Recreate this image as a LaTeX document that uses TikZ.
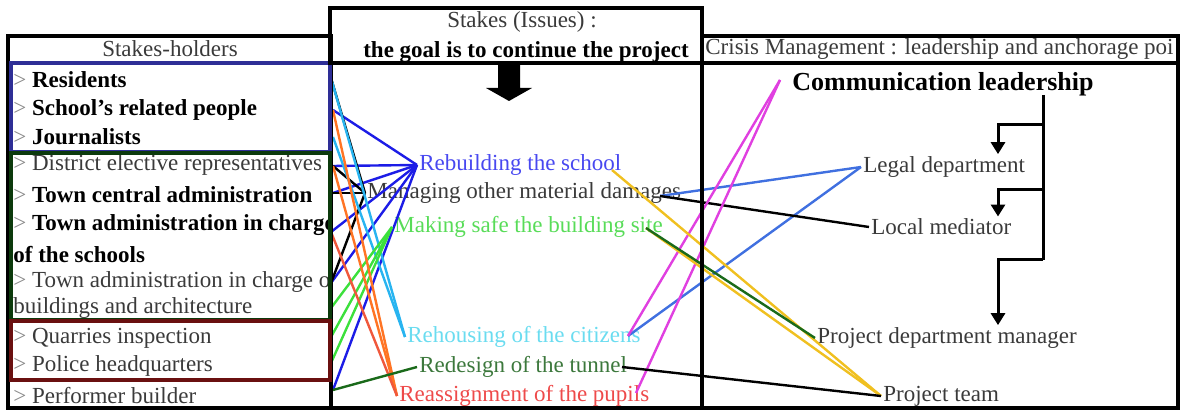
\documentclass[tikz,border=0pt]{standalone}
\usepackage{fontspec}
\setmainfont{Liberation Serif}
\usepackage{xcolor}
\usetikzlibrary{arrows.meta,positioning}

\definecolor{txtgray}{HTML}{3A3A3A}
\definecolor{markgray}{HTML}{8A8A8A}
\definecolor{boxblue}{HTML}{2E2E96}
\definecolor{boxgreen}{HTML}{0C3A0C}
\definecolor{boxred}{HTML}{6A1010}
\definecolor{lnblue}{HTML}{1C1CE6}
\definecolor{lnorange}{HTML}{FF7424}
\definecolor{lnred}{HTML}{F0583C}
\definecolor{lncyan}{HTML}{28B4F0}
\definecolor{lngreen}{HTML}{3CE03C}
\definecolor{lndkgreen}{HTML}{1A6A1A}
\definecolor{lncorn}{HTML}{4070E0}
\definecolor{lnmagenta}{HTML}{E040E0}
\definecolor{lnyellow}{HTML}{F0C020}
\definecolor{isblue}{HTML}{4848F0}
\definecolor{isgreen}{HTML}{58DC58}
\definecolor{iscyan}{HTML}{6ADCF0}
\definecolor{isdkgreen}{HTML}{3C783C}
\definecolor{isred}{HTML}{EE4A4A}

\newcommand\hmark{{\color{markgray}>}~}

\begin{document}
\begin{tikzpicture}[x=0.5pt, y=-0.5pt,
    base/.style={font=\fontsize{11.5}{13.8}\selectfont, text=txtgray},
    holder/.style={base, anchor=west, inner sep=0pt},
    issue/.style={base, anchor=west, inner sep=1pt},
    frame/.style={line width=2pt},
    link/.style={line width=1.2pt},
    chain/.style={line width=1.5pt, -{Triangle[width=7pt,length=6pt]}}]
  \useasboundingbox (0,0) rectangle (1180,410);

  % column headers
  \node[base] (hold) at (170,49) {Stakes-holders};
  \node[base] (stk) at (522,22) {Stakes (Issues) :};
  \node[base, text=black, font=\fontsize{11.5}{13.8}\selectfont\bfseries] (goal) at (526,52) {the goal is to continue the project};
  \node[holder] (crisis) at (705,49) {Crisis Management : leadership and anchorage poi};

  % stakes-holders
  \begin{scope}
    \clip (10,63) rectangle (330,408);
    \node[holder, text=black] (res) at (13,80) {\hmark\textbf{Residents}};
    \node[holder, text=black] (sch) at (13,110) {\hmark\textbf{School's related people}};
    \node[holder, text=black] (jou) at (13,137) {\hmark\textbf{Journalists}};
    \node[holder] (dis) at (13,165) {\hmark District elective representatives};
    \node[holder, text=black] (cen) at (13,195) {\hmark\textbf{Town central administration}};
    \node[holder, text=black] (tsc) at (13,225) {\hmark\textbf{Town administration in charge}};
    \node[holder, text=black] (tsc2) at (13,255) {\textbf{of the schools}};
    \node[holder] (tbd) at (13,282) {\hmark Town administration in charge of};
    \node[holder] (tbd2) at (13,308) {buildings and architecture};
    \node[holder] (qua) at (13,338) {\hmark Quarries inspection};
    \node[holder] (pol) at (13,366) {\hmark Police headquarters};
    \node[holder] (bui) at (13,396) {\hmark Performer builder};
  \end{scope}

  % stakes
  \node[issue, text=isblue] (rebuild) at (417,165) {Rebuilding the school};
  \node[issue] (manage) at (365,193) {Managing other material damages};
  \node[issue, text=isgreen] (safe) at (392,227) {Making safe the building site};
  \node[issue, text=iscyan] (rehouse) at (405,337) {Rehousing of the citizens};
  \node[issue, text=isdkgreen] (tunnel) at (417,367) {Redesign of the tunnel};
  \node[issue, text=isred] (pupils) at (397,396) {Reassignment of the pupils};

  % crisis management
  \node[base, anchor=west, inner xsep=6pt, text=black, font=\fontsize{13}{15}\selectfont\bfseries] (comm) at (780,84) {Communication leadership};
  \node[issue] (legal) at (861,167) {Legal department};
  \node[issue] (mediator) at (869,227) {Local mediator};
  \node[issue] (projmgr) at (815,338) {Project department manager};
  \node[issue] (projteam) at (881,396) {Project team};

  % line ends
  \coordinate (resR) at (331,78);
  \coordinate (schR) at (333,110);
  \coordinate (jouR) at (333,137);
  \coordinate (disR) at (333,166);
  \coordinate (cenR) at (333,193);
  \coordinate (tscR) at (331,232);
  \coordinate (tbdR) at (331,283);
  \coordinate (archR) at (331,308);
  \coordinate (quaR) at (331,337);
  \coordinate (polR) at (331,363);
  \coordinate (buiR) at (333,390);
  \coordinate (rebE) at (612,170);
  \coordinate (manE) at (660,196);
  \coordinate (safeE) at (646,228);
  \coordinate (rehE) at (628,336);
  \coordinate (tunE) at (622,367);
  \coordinate (pupE) at (636,393);
  \coordinate (apex) at (780,80);

  % stakes-holders -> stakes
  \foreach \s in {schR,disR,cenR,tscR,tbdR,buiR}
    \draw[link, lnblue] (\s) -- (rebuild.west);
  \foreach \s in {resR,disR,cenR,tbdR}
    \draw[link, black] (\s) -- (manage.west);
  \foreach \s in {resR,jouR}
    \draw[link, lncyan] (\s) -- (rehouse.west);
  \foreach \s in {archR,quaR,polR}
    \draw[link, lngreen] (\s) -- (safe.west);
  \draw[link, lnorange] (schR) -- (pupils.west);
  \draw[link, lnorange] (disR) -- (pupils.west);
  \draw[link, lnred] (tscR) -- (pupils.west);
  \draw[link, lndkgreen] (buiR) -- (tunnel.west);

  % stakes -> crisis management
  \draw[link, lncorn] (manE) -- (legal.west);
  \draw[link, lncorn] (rehE) -- (legal.west);
  \draw[link, black] (manE) -- (mediator.west);
  \draw[link, lnmagenta] (rehE) -- (apex);
  \draw[link, lnmagenta] (pupE) -- (apex);
  \draw[link, lnyellow] (rebE) -- (projteam.west);
  \draw[link, lnyellow] (safeE) -- (projteam.west);
  \draw[link, lndkgreen] (safeE) -- (projmgr.west);
  \draw[link, black] (tunE) -- (projteam.west);

  % leadership chain
  \coordinate (spine) at (1043,95);
  \coordinate (arm) at (998,0);
  \draw[line width=1.5pt] (spine) -- (1043,260);
  \draw[chain] (1043,125) -| (arm |- legal.north);
  \draw[chain] (1043,190) -| (arm |- mediator.north);
  \draw[chain] (1043,260) -| (arm |- projmgr.north);

  % frames
  \draw[frame] (8,36) rectangle (331,408);
  \draw[frame, boxblue] (11,63) rectangle (330,152);
  \draw[frame, boxgreen] (11,153) rectangle (330,320);
  \draw[frame, boxred] (11,321) rectangle (330,380);
  \draw[frame] (330,8) rectangle (702,63);
  \draw[frame] (702,63) -- (702,408) -- (331,408);
  \draw[frame] (702,36) rectangle (1178,408);
  \draw[frame] (702,63) -- (1178,63);

  % block arrow under the stakes header
  \fill (498,64) -- (520,64) -- (520,88) -- (532,88) -- (509,101) -- (486,88) -- (498,88) -- cycle;
\end{tikzpicture}
\end{document}
